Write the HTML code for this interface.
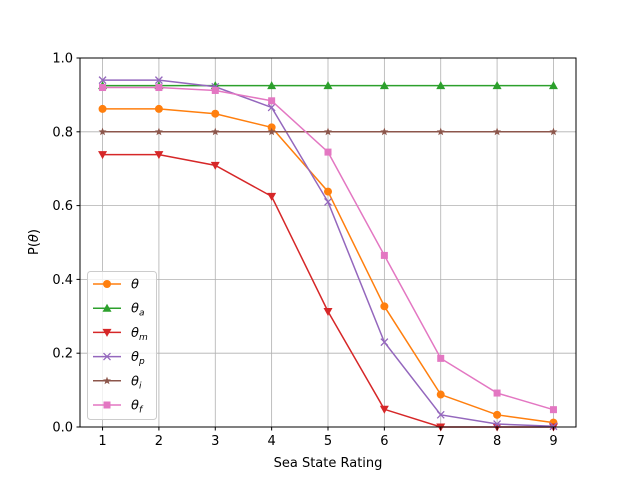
<!DOCTYPE html>
<html><head><meta charset="utf-8"><style>
body{margin:0;background:#fff;}
text{font-family:"DejaVu Sans","Liberation Sans",sans-serif;font-size:13px;fill:#000;}
</style></head><body>
<svg id="chart" width="640" height="480" xmlns="http://www.w3.org/2000/svg">
<rect width="640" height="480" fill="#fff"/>
<g id="grid"></g>
<g id="series"></g>
<rect x="80" y="58" width="496" height="369" fill="none" stroke="#000" stroke-width="1"/>
<g id="ticks"></g>
<text x="328" y="467" text-anchor="middle">Sea State Rating</text>
<text transform="translate(38,242) rotate(-90)" text-anchor="middle">P(<tspan font-style="italic">θ</tspan>)</text>
<g id="legend"></g>
</svg>
<script>
const categories=[1,2,3,4,5,6,7,8,9];
const yTicks=[0,0.2,0.4,0.6,0.8,1.0];
const yTickLabels=["0.0","0.2","0.4","0.6","0.8","1.0"];
const theta=[0.862,0.862,0.849,0.812,0.638,0.327,0.088,0.033,0.012];
const thetaA=[0.925,0.925,0.925,0.925,0.925,0.925,0.925,0.925,0.925];
const thetaM=[0.738,0.738,0.709,0.625,0.313,0.048,0.0,0.0,0.0];
const thetaP=[0.94,0.94,0.922,0.866,0.61,0.23,0.033,0.008,0.002];
const thetaI=[0.8,0.8,0.8,0.8,0.8,0.8,0.8,0.8,0.8];
const thetaF=[0.92,0.92,0.912,0.884,0.745,0.465,0.186,0.092,0.047];
const seriesNames=["θ","θa","θm","θp","θi","θf"];
const NS="http://www.w3.org/2000/svg";
const L=80,R=576,T=58,B=427;
const xs=v=>L+(v-0.6)/8.8*(R-L);
const ys=v=>B-v*(B-T);
function mk(tag,attrs,parent){const e=document.createElementNS(NS,tag);for(const k in attrs)e.setAttribute(k,attrs[k]);parent.appendChild(e);return e;}
const grid=document.getElementById('grid'),ticks=document.getElementById('ticks');
categories.forEach(c=>{
 const g=mk('line',{x1:xs(c),x2:xs(c),y1:T,y2:B,stroke:'#b0b0b0','stroke-width':0.8},grid);
 
 
 mk('line',{x1:xs(c),x2:xs(c),y1:B,y2:B+3.5,stroke:'#000'},ticks);
 const t=mk('text',{x:xs(c),y:B+18,'text-anchor':'middle'},ticks);t.textContent=c;
 
 
});
yTicks.forEach((v,i)=>{
 const g=mk('line',{x1:L,x2:R,y1:ys(v),y2:ys(v),stroke:'#b0b0b0','stroke-width':0.8},grid);
 
 
 mk('line',{x1:L-3.5,x2:L,y1:ys(v),y2:ys(v),stroke:'#000'},ticks);
 const t=mk('text',{x:L-7,y:ys(v)+4.5,'text-anchor':'end'},ticks);t.textContent=yTickLabels[i];
 
 
});
function marker(type,x,y,col,p){
 if(type==='o')return mk('circle',{cx:x,cy:y,r:4,fill:col},p);
 if(type==='^')return mk('polygon',{points:`${x},${y-4.5} ${x-4.5},${y+3.5} ${x+4.5},${y+3.5}`,fill:col},p);
 if(type==='v')return mk('polygon',{points:`${x},${y+4.5} ${x-4.5},${y-3.5} ${x+4.5},${y-3.5}`,fill:col},p);
 if(type==='x')return mk('path',{d:`M${x-3.5},${y-3.5}L${x+3.5},${y+3.5}M${x-3.5},${y+3.5}L${x+3.5},${y-3.5}`,stroke:col,'stroke-width':1.3},p);
 if(type==='*'){let pts=[];for(let i=0;i<10;i++){const a=-Math.PI/2+i*Math.PI/5,r=i%2?1.8:4.2;pts.push((x+r*Math.cos(a))+','+(y+r*Math.sin(a)));}return mk('polygon',{points:pts.join(' '),fill:col},p);}
 if(type==='s')return mk('rect',{x:x-3.5,y:y-3.5,width:7,height:7,fill:col},p);
}
const data=[theta,thetaA,thetaM,thetaP,thetaI,thetaF];
const cols=['#ff7f0e','#2ca02c','#d62728','#9467bd','#8c564b','#e377c2'];
const mks=['o','^','v','x','*','s'];
const sg=document.getElementById('series');
data.forEach((arr,si)=>{
 const g=mk('g',{},sg);
 
 
 mk('polyline',{points:arr.map((v,i)=>xs(categories[i])+','+ys(v)).join(' '),fill:'none',stroke:cols[si],'stroke-width':1.5},g);
 arr.forEach((v,i)=>{const m=marker(mks[si],xs(categories[i]),ys(v),cols[si],g);
  
  });
});
const lg=document.getElementById('legend');


mk('rect',{x:87.5,y:271.5,width:69,height:148,rx:3,fill:'#fff','fill-opacity':0.8,stroke:'#ccc'},lg);
const subs=['','a','m','p','i','f'];
subs.forEach((s,i)=>{
 const y=284+i*24.2;
 mk('line',{x1:93,x2:121,y1:y,y2:y,stroke:cols[i],'stroke-width':1.5},lg);
 marker(mks[i],107,y,cols[i],lg);
 const t=mk('text',{x:131,y:y+4.5,'font-style':'italic'},lg);
 
 
 t.textContent='θ';
 if(s){const ts=mk('tspan',{'font-size':'9px',dy:3},t);ts.textContent=s;}
});
</script>
</body></html>
